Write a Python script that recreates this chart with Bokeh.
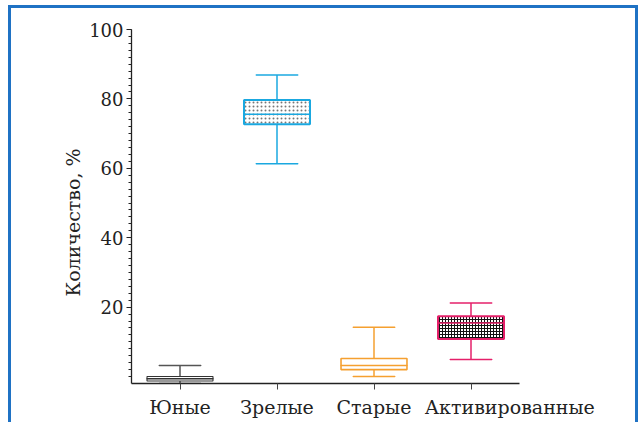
from bokeh.plotting import figure
from bokeh.models import (Range1d, FixedTicker, Title, ColumnDataSource, LinearAxis)
from bokeh.embed import file_html
from bokeh.resources import INLINE

categories = ["Юные", "Зрелые", "Старые", "Активированные"]
lower = [-2.0, 61.3, 0.0, 4.9]
q1 = [-1.3, 72.7, 2.0, 10.8]
median = [-0.6, 75.6, 3.2, 15.4]
q3 = [0.0, 79.7, 5.2, 17.4]
upper = [3.2, 86.9, 14.2, 21.2]
y_ticks = [20, 40, 60, 80, 100]
y_title = "Количество, %"
# the last category label is printed shifted right in the original (to clear its neighbour)
label_shift = [0.0, 0.0, 0.0, 0.4]

colors = ["#333333", "#1aa8e0", "#f5a030", "#e5206a"]
whisker_colors = ["#555555", "#1aa8e0", "#f5a030", "#e5206a"]
box_line_widths = [1.1, 2, 1.6, 2]
hatches = ["blank", "dot", "blank", "cross"]
hatch_colors = ["#000000", "#777777", "#000000", "#111111"]
hatch_scales = [6, 4, 6, 3]

n = len(categories)
slot = [i + 0.5 for i in range(n)]          # category slot centres on the x scale
label_pos = [c + s for c, s in zip(slot, label_shift)]

src = ColumnDataSource(dict(x=slot, lo=lower, q1=q1, med=median, q3=q3, hi=upper,
                            col=colors, wcol=whisker_colors, lw=box_line_widths,
                            hp=hatches, hc=hatch_colors, hs=hatch_scales))

FONT = "DejaVu Serif"
BORDER = "3px solid #1f72c4"

p = figure(x_range=Range1d(0, n), y_range=Range1d(-2, 100),
           width=630, height=417, output_backend="svg", toolbar_location=None,
           min_border_left=120, min_border_right=122, min_border_top=21, min_border_bottom=42)
p.styles = {"border-top": BORDER, "border-left": BORDER, "border-right": BORDER,
            "margin-top": "5px", "margin-left": "8px"}
p.outline_line_color = None
p.grid.visible = False
p.background_fill_color = "white"
p.border_fill_color = "white"

# whiskers
p.segment(x0="x", y0="q3", x1="x", y1="hi", source=src, line_color="wcol", line_width=1.5)
p.segment(x0="x", y0="lo", x1="x", y1="q1", source=src, line_color="wcol", line_width=1.5)
p.rect(x="x", y="hi", width=0.43, height=0.001, source=src, fill_alpha=0, line_color="wcol", line_width=1.5)
p.rect(x="x", y="lo", width=0.43, height=0.001, source=src, fill_alpha=0, line_color="wcol", line_width=1.5)
# boxes
p.vbar(x="x", bottom="q1", top="q3", width=0.68, source=src, fill_color="white",
       line_color="col", line_width="lw", hatch_pattern="hp", hatch_color="hc", hatch_scale="hs", hatch_weight=1)
p.rect(x="x", y="med", width=0.68, height=0.001, source=src, fill_alpha=0, line_color="col", line_width=1.5)

# y axis
ya = p.yaxis[0]
ya.ticker = FixedTicker(ticks=y_ticks, minor_ticks=list(range(0, 101, 2)))
ya.major_tick_out = 5
ya.major_tick_in = 0
ya.minor_tick_out = 3
ya.minor_tick_in = 0
ya.major_label_standoff = 3
ya.major_label_text_font = FONT
ya.major_label_text_font_size = "18px"
ya.major_label_text_color = "#222222"
ya.axis_line_color = "#222222"
ya.axis_line_width = 1.3
ya.major_tick_line_color = "#222222"
ya.minor_tick_line_color = "#222222"

# x axis: line + tick marks at category slots
xa = p.xaxis[0]
xa.ticker = FixedTicker(ticks=slot, minor_ticks=[])
xa.major_tick_out = 6
xa.major_tick_in = 0
xa.major_label_standoff = 0
xa.major_label_text_font_size = "1px"
xa.major_label_text_alpha = 0
xa.axis_line_color = "#222222"
xa.axis_line_width = 1.3
xa.major_tick_line_color = "#444444"

# category labels
la = LinearAxis(ticker=FixedTicker(ticks=label_pos, minor_ticks=[]),
                major_label_overrides={pos: c for pos, c in zip(label_pos, categories)})
la.axis_line_color = None
la.major_tick_line_color = None
la.minor_tick_line_color = None
la.major_tick_out = 0
la.major_tick_in = 0
la.major_label_standoff = 6
la.major_label_text_font = FONT
la.major_label_text_font_size = "19px"
la.major_label_text_color = "#222222"
p.add_layout(la, "below")

p.add_layout(Title(text=y_title, align="left", offset=87, text_font=FONT, text_font_size="19px",
                   text_font_style="normal", text_color="#222222", standoff=6), "left")

open("out.html", "w").write(file_html(p, INLINE))
